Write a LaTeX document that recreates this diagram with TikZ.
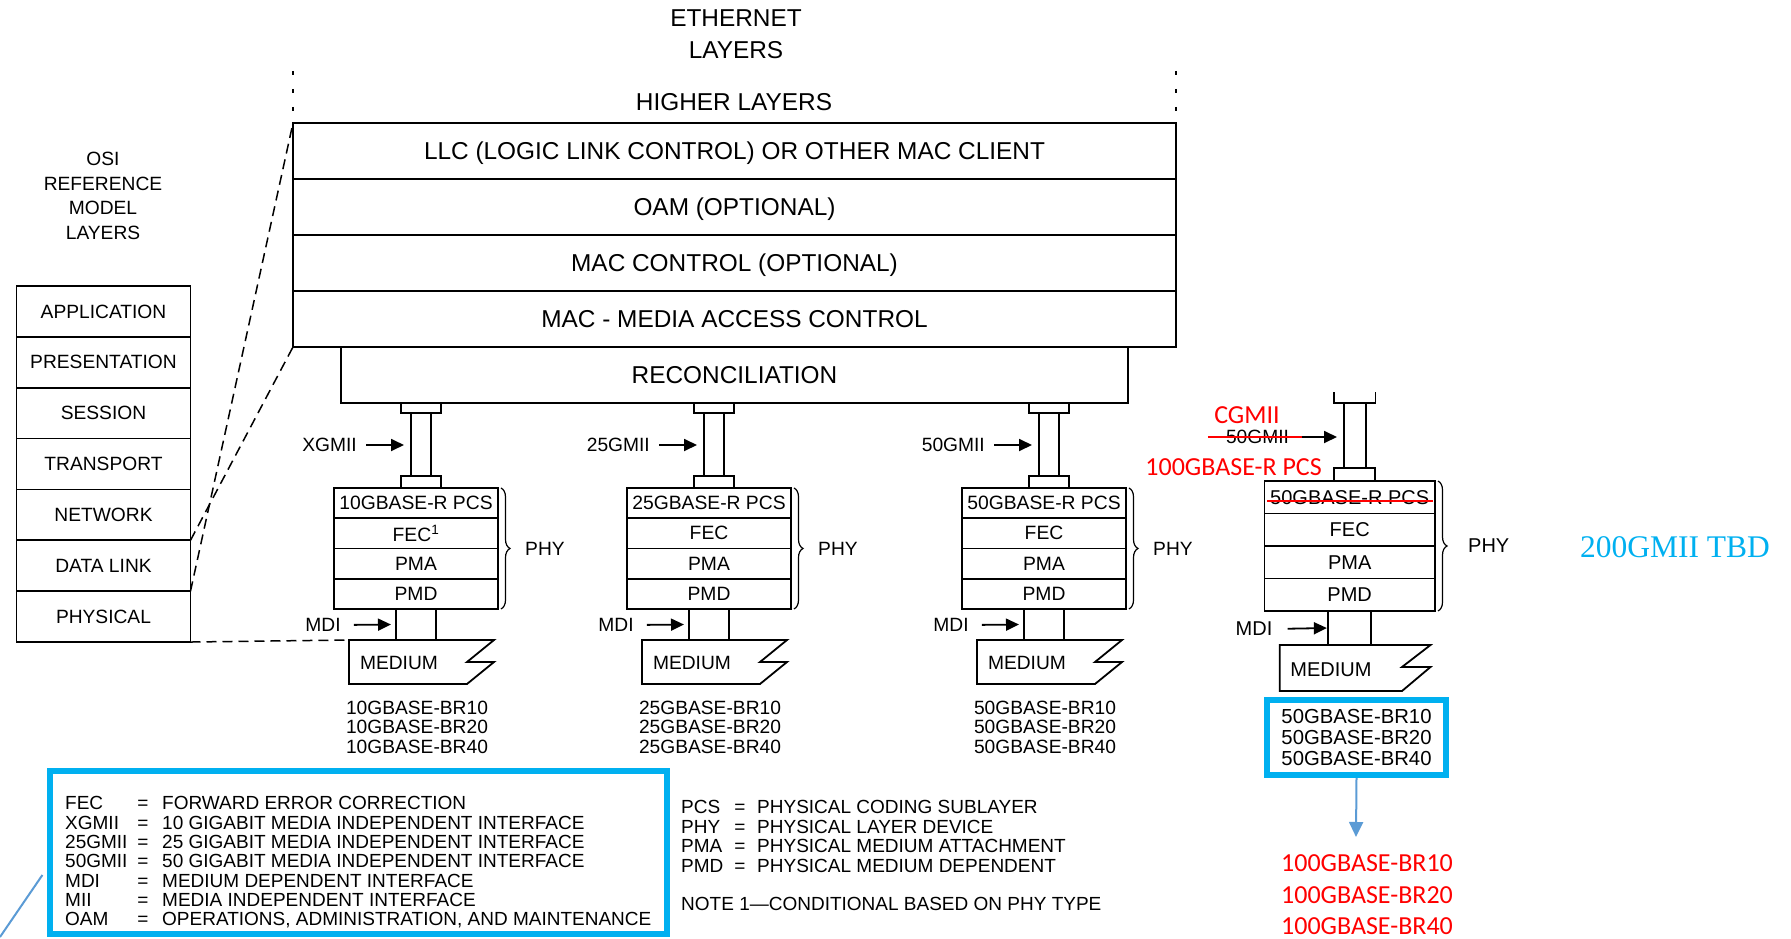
\documentclass[tikz,border=0pt]{standalone}
\usepackage{fontspec}
\setmainfont{Liberation Sans}
\newfontfamily\calibfont{Carlito}
\newfontfamily\timesfont{Liberation Serif}
\usetikzlibrary{positioning,arrows.meta,decorations.pathreplacing}
\definecolor{tbdcyan}{HTML}{00B0F0}
\definecolor{noteblue}{HTML}{5B9BD5}
\definecolor{editred}{HTML}{FF0000}

\tikzset{
  ln/.style={line width=1.8pt},
  ethbox/.style={draw, line width=1.8pt, outer sep=0pt, minimum width=883pt, minimum height=56pt, inner sep=0pt, text height=17.5pt, text depth=0pt, font=\fontsize{24.4}{29}\selectfont},
  osibox/.style={draw, line width=1.8pt, outer sep=0pt, minimum width=174pt, minimum height=50.86pt, inner sep=0pt, font=\fontsize{19.2}{23}\selectfont},
  laybox/.style={draw, line width=1.8pt, outer sep=0pt, minimum width=164pt, minimum height=30.25pt, inner sep=0pt, font=\fontsize{19.3}{23}\selectfont},
  lbl/.style={inner sep=0pt, font=\fontsize{19.2}{23}\selectfont},
  arr/.style={line width=1.8pt, -{Triangle[length=13pt,width=12pt]}},
  brc/.style={line width=1.2pt, decorate, decoration={brace, amplitude=9pt}},
  dashln/.style={line width=1.5pt, dash pattern=on 10pt off 6pt},
  dotln/.style={line width=2.5pt, dash pattern=on 4pt off 14pt},
  legbox/.style={draw=tbdcyan, line width=6pt, inner sep=0pt},
  legtxt/.style={inner sep=0pt, anchor=west, text height=13.6pt, text depth=0pt, font=\fontsize{19}{19}\selectfont},
  redtxt/.style={inner sep=0pt, text=editred, font=\calibfont\fontsize{26}{31.5}\selectfont},
  strike/.style={draw=editred, line width=1.5pt},
}

\begin{document}
\begin{tikzpicture}[x=1pt, y=-1pt]
\useasboundingbox (0,0) rectangle (1791,939);

% titles
\node[lbl, align=center, font=\fontsize{24.4}{32}\selectfont] (ethtitle) at (736,34) {ETHERNET\\LAYERS};
\node[lbl, font=\fontsize{24.4}{29}\selectfont] (higher) at (734,102) {HIGHER LAYERS};
\node[lbl, align=center, font=\fontsize{19.2}{24.7}\selectfont] (osititle) at (103,196) {OSI\\REFERENCE\\MODEL\\LAYERS};

% ethernet layers
\node[ethbox] (llc) at (734.5,151) {LLC (LOGIC LINK CONTROL) OR OTHER MAC CLIENT};
\node[ethbox, below=0pt of llc] (oam) {OAM (OPTIONAL)};
\node[ethbox, below=0pt of oam] (macc) {MAC CONTROL (OPTIONAL)};
\node[ethbox, below=0pt of macc] (mac) {MAC - MEDIA ACCESS CONTROL};
\node[ethbox, below=0pt of mac, minimum width=787pt] (rec) {RECONCILIATION};

\coordinate (dl) at (293,71);
\coordinate (dr) at (1176,71);
\draw[dotln] (dl) -- (llc.north west);
\draw[dotln] (dr) -- (llc.north east);

% osi model
\foreach \t [count=\i] in {APPLICATION,PRESENTATION,SESSION,TRANSPORT,NETWORK,DATA LINK,PHYSICAL}
  \node[osibox] (osi\i) at (103.5,{286+50.86*\i-25.43}) {\t};

% phy stacks
\foreach \sx/\rate/\mii/\fec [count=\i] in {334/10/XGMII/FEC\textsuperscript{1}, 627/25/25GMII/FEC, 962/50/50GMII/FEC}{
  \draw[ln] ({\sx+67},403) rectangle ({\sx+107},413);
  \draw[ln] ({\sx+77},413) rectangle ({\sx+97},476);
  \draw[ln] ({\sx+67},476) rectangle ({\sx+107},488);
  \coordinate (gt\i) at ({\sx+70},445);
  \node[lbl, anchor=east] (gm\i) at ({\sx+23},445) {\mii};
  \draw[arr, shorten <=9pt] (gm\i.east) -- (gt\i);
  \node[laybox] (pcs\i) at ({\sx+82},503.1) {\rate GBASE-R PCS};
  \node[laybox, below=0pt of pcs\i] (fec\i) {\fec};
  \node[laybox, below=0pt of fec\i] (pma\i) {PMA};
  \node[laybox, below=0pt of pma\i] (pmd\i) {PMD};
  \draw[brc] ([xshift=3pt]pcs\i.north east) -- ([xshift=3pt]pmd\i.south east);
  \node[lbl, anchor=west] (phy\i) at ([xshift=27pt]fec\i.south east) {PHY};
  \node[draw, ln, outer sep=0pt, minimum width=40pt, minimum height=31pt, below=0pt of pmd\i] (mdi\i) {};
  \node[lbl] (ml\i) at ({\sx-11},625) {MDI};
  \draw[arr, shorten <=13pt, shorten >=5pt] (ml\i.east) -- (mdi\i.west);
  \coordinate (mt\i) at ({\sx+15},640);
  \draw[ln] (mt\i) -- ({\sx+160},640) -- ({\sx+133},662) -- ({\sx+160},662) -- ({\sx+133},684) -- ({\sx+15},684) -- cycle;
  \node[lbl] (med\i) at ({\sx+65},663) {MEDIUM};
  \node[lbl, align=center, font=\fontsize{19.2}{19.5}\selectfont] (nm\i) at ({\sx+83},727) {\rate GBASE-BR10\\\rate GBASE-BR20\\\rate GBASE-BR40};
}

\draw[dashln] (osi6.south east) -- (llc.north west);
\draw[dashln] (osi6.north east) -- (mac.south west);
\draw[dashln] (osi7.south east) -- (mt1);

% 100G stack (edited)
\draw[ln] (1333.6,392) -- (1333.6,403) -- (1375.4,403) -- (1375.4,392);
\draw[ln] (1343.7,403) rectangle (1365.7,468);
\draw[ln] (1333.6,468) rectangle (1375,481);
\node[redtxt] (cg4) at (1247,415) {CGMII};
\node[lbl] (gm4) at (1257.5,437) {50GMII};
\draw[strike] ([xshift=-18pt]gm4.west) -- ([xshift=13pt]gm4.east);
\coordinate (gt4) at (1337,437);
\draw[arr, shorten <=13pt] (gm4.east) -- (gt4);
\node[redtxt] (pcs100) at (1233.6,467) {100GBASE-R PCS};

\node[laybox, minimum width=170.6pt, minimum height=32.5pt, font=\fontsize{20}{24}\selectfont] (pcs4) at (1349.7,497.25) {50GBASE-R PCS};
\node[laybox, minimum width=170.6pt, minimum height=32.5pt, font=\fontsize{20}{24}\selectfont, below=0pt of pcs4] (fec4) {FEC};
\node[laybox, minimum width=170.6pt, minimum height=32.5pt, font=\fontsize{20}{24}\selectfont, below=0pt of fec4] (pma4) {PMA};
\node[laybox, minimum width=170.6pt, minimum height=32.5pt, font=\fontsize{20}{24}\selectfont, below=0pt of pma4] (pmd4) {PMD};
\draw[strike] ([shift={(3,3.5)}]pcs4.west) -- ([shift={(-2,3.5)}]pcs4.east);
\draw[brc] ([xshift=3pt]pcs4.north east) -- ([xshift=3pt]pmd4.south east);
\node[lbl, anchor=west, font=\fontsize{20}{24}\selectfont] (phy4) at ([xshift=33pt]fec4.south east) {PHY};

\node[draw, ln, outer sep=0pt, minimum width=42.7pt, minimum height=34pt, below=0pt of pmd4] (mdi4) {};
\node[lbl, font=\fontsize{20}{24}\selectfont] (ml4) at (1254,629) {MDI};
\draw[arr, shorten <=15pt, shorten >=1.5pt] (ml4.east) -- (mdi4.west);
\coordinate (mt4) at (1279.8,645);
\draw[ln] (mt4) -- (1430.5,645) -- (1402,667) -- (1430.5,667) -- (1402,691) -- (1279.8,691) -- cycle;
\node[lbl, font=\fontsize{20}{24}\selectfont] (med4) at (1331,670) {MEDIUM};

\node[legbox, minimum width=179pt, minimum height=75pt, align=center, font=\fontsize{20.3}{21}\selectfont] (nm4) at (1356.5,737.5) {50GBASE-BR10\\50GBASE-BR20\\50GBASE-BR40};
\coordinate (at4) at (1356,837);
\draw[line width=2pt, draw=noteblue, -{Triangle[length=15pt,width=14pt]}] (nm4.south) -- (at4);
\node[redtxt, align=center] (red100) at (1367,895) {100GBASE-BR10\\100GBASE-BR20\\100GBASE-BR40};

\node[inner sep=0pt, text=tbdcyan, font=\timesfont\fontsize{31.5}{36}\selectfont] (tbd) at (1675,547) {200GMII TBD};

% legends
\node[legbox, minimum width=617pt, minimum height=163pt] (leg) at (358,852.5) {};
\foreach \ab/\de [count=\i from 0] in {FEC/FORWARD ERROR CORRECTION, XGMII/10 GIGABIT MEDIA INDEPENDENT INTERFACE, 25GMII/25 GIGABIT MEDIA INDEPENDENT INTERFACE, 50GMII/50 GIGABIT MEDIA INDEPENDENT INTERFACE, MDI/MEDIUM DEPENDENT INTERFACE, MII/MEDIA INDEPENDENT INTERFACE, OAM/{OPERATIONS, ADMINISTRATION, AND MAINTENANCE}}{
  \node[legtxt] (lab\i) at (65,{803+19.3*\i}) {\ab};
  \node[legtxt, anchor=center] (leq\i) at (143,{803+19.3*\i}) {=};
  \node[legtxt] (lde\i) at (162,{803+19.3*\i}) {\de};
}
\foreach \ab/\de [count=\i from 0] in {PCS/PHYSICAL CODING SUBLAYER, PHY/PHYSICAL LAYER DEVICE, PMA/PHYSICAL MEDIUM ATTACHMENT, PMD/PHYSICAL MEDIUM DEPENDENT}{
  \node[legtxt] (pab\i) at (681,{806.4+19.8*\i}) {\ab};
  \node[legtxt, anchor=center] (peq\i) at (740,{806.4+19.8*\i}) {=};
  \node[legtxt] (pde\i) at (757,{806.4+19.8*\i}) {\de};
}
\node[legtxt] (note1) at (681,903.5) {NOTE 1—CONDITIONAL BASED ON PHY TYPE};

\coordinate (bl0) at (0,937);
\coordinate (bl1) at (42.4,875);
\draw[line width=2pt, noteblue] (bl0) -- (bl1);
\end{tikzpicture}
\end{document}
